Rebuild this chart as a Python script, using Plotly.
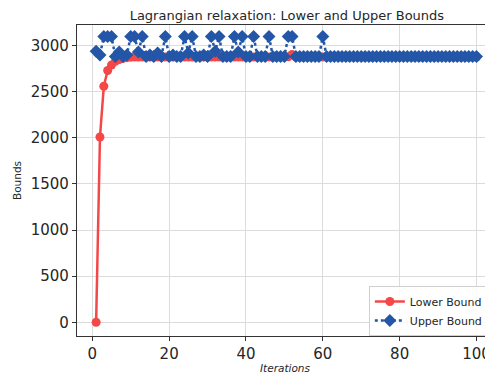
import plotly.graph_objects as go

iterations = list(range(1, 101))

lower_bound = [0, 2010, 2560, 2730, 2790, 2830, 2850, 2862, 2870, 2875] + [2877] * 40 + [2880, 2905] + [2877] * 48

upper_peaks = {1: 2940, 2: 2900, 3: 3100, 4: 3100, 5: 3100, 7: 2930, 9: 2900,
               10: 3100, 11: 3100, 12: 2930, 13: 3100, 15: 2900, 17: 2920,
               19: 3100, 21: 2900, 24: 3100, 25: 2920, 26: 3100, 29: 2900,
               31: 3100, 32: 2940, 33: 3100, 37: 3100, 38: 2930, 39: 3100,
               42: 3100, 46: 3100, 51: 3100, 52: 3100, 60: 3100}
upper_bound = [upper_peaks.get(i, 2882) for i in iterations]

x_ticks = [0, 20, 40, 60, 80, 100]
y_ticks = [0, 500, 1000, 1500, 2000, 2500, 3000]

fig = go.Figure()
fig.add_trace(go.Scatter(
    x=iterations, y=lower_bound, name="Lower Bound", mode="lines+markers",
    line=dict(color="#F44848", width=2.5),
    marker=dict(symbol="circle", size=9, color="#F44848"),
))
fig.add_trace(go.Scatter(
    x=iterations, y=upper_bound, name="Upper Bound", mode="lines+markers",
    line=dict(color="#2456A8", width=2.5, dash="dot"),
    marker=dict(symbol="diamond", size=10, color="#2456A8"),
))

font = "DejaVu Sans, Liberation Sans, sans-serif"
fig.update_layout(
    width=485, height=370,
    margin=dict(l=69, r=0, t=17, b=42),
    plot_bgcolor="white", paper_bgcolor="white",
    font=dict(family=font, color="#262626"),
    title=dict(text="Lagrangian relaxation: Lower and Upper Bounds",
               x=0.575, xanchor="center", y=0.98, yanchor="middle",
               font=dict(size=13, color="#262626")),
    showlegend=True,
    legend=dict(x=0.99, y=0.0, xanchor="right", yanchor="bottom",
                bgcolor="rgba(255,255,255,0.85)", bordercolor="#d0d0d0",
                borderwidth=1, font=dict(size=11, color="#262626"),
                tracegroupgap=0),
)
fig.update_xaxes(
    range=[-3.98, 104.3], tickvals=x_ticks, ticktext=[str(v) for v in x_ticks],
    showgrid=True, gridcolor="#dcdcdc", gridwidth=1,
    showline=True, linecolor="#333333", linewidth=1.3, mirror=True,
    ticks="outside", ticklen=4, tickcolor="#333333",
    tickfont=dict(size=15, color="#262626"), zeroline=False,
    title=dict(text="<i>Iterations</i>", font=dict(size=10.5), standoff=2),
)
fig.update_yaxes(
    range=[-148.6, 3224], tickvals=y_ticks, ticktext=[str(v) for v in y_ticks],
    showgrid=True, gridcolor="#dcdcdc", gridwidth=1,
    showline=True, linecolor="#333333", linewidth=1.3, mirror=True,
    ticks="outside", ticklen=4, tickcolor="#333333",
    tickfont=dict(size=15, color="#262626"), zeroline=False,
    title=dict(text="Bounds", font=dict(size=10.5), standoff=6),
)

fig.write_html("out.html")
